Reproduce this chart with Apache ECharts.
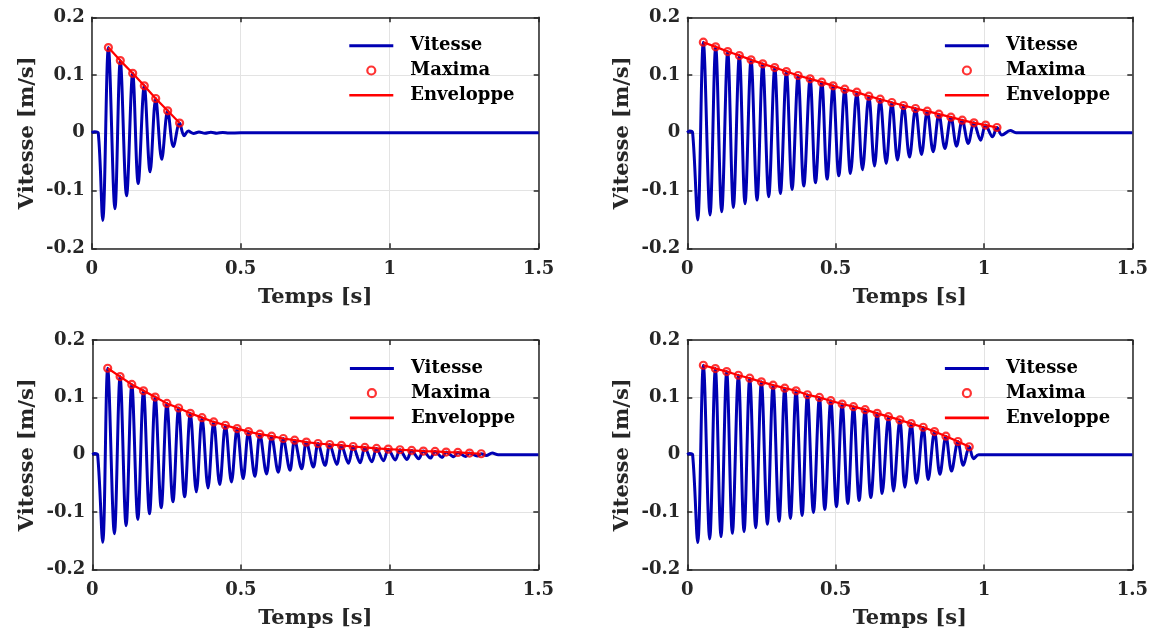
<!DOCTYPE html>
<html><head><meta charset="utf-8">
<script src="https://cdn.jsdelivr.net/npm/echarts@6/dist/echarts.min.js"></script>
<style>html,body{margin:0;padding:0;background:#fff}#c{width:1155px;height:637px}</style>
</head><body><div id="c"></div>
<script>
// ---- tick labels / texts ----
const xTickValues = [0, 0.5, 1, 1.5];
const xTickLabels = ['0', '0.5', '1', '1.5'];
const yTickValues = [-0.2, -0.1, 0, 0.1, 0.2];
const yTickLabels = ['-0.2', '-0.1', '0', '0.1', '0.2'];
const legendNames = ['Vitesse', 'Maxima', 'Enveloppe'];
const xTitle = 'Temps [s]';
const yTitle = 'Vitesse [m/s]';

// ---- panel 1 (top-left) ----
const p1StartT = [0, 0.01, 0.022];
const p1StartV = [0, 0.002, 0];
const p1MaxT = [0.056, 0.096, 0.1376, 0.1765, 0.2148, 0.255, 0.295];
const p1MaxV = [0.1476, 0.125, 0.103, 0.0813, 0.0594, 0.038, 0.0168];
const p1MinT = [0.037, 0.078, 0.117, 0.156, 0.196, 0.235, 0.274];
const p1MinV = [-0.1517, -0.1315, -0.109, -0.088, -0.0675, -0.046, -0.0237];
const p1TailT = [0.31, 0.324, 0.342, 0.36, 0.38, 0.40, 0.42, 0.44, 0.46, 0.5, 1.5];
const p1TailV = [-0.005, 0.003, -0.001, 0.0012, -0.0008, 0.001, -0.0007, 0.0006, -0.0004, 0, 0];

// ---- panel 2 (top-right) ----
const p2StartT = [0, 0.008, 0.018];
const p2StartV = [0, 0.003, 0];
const p2MaxT = [0.054, 0.0957, 0.1362, 0.1755, 0.2149, 0.2543, 0.2948, 0.3341, 0.3735, 0.414, 0.4533, 0.4916, 0.5309, 0.5714, 0.6119, 0.6501, 0.6895, 0.7289, 0.7693, 0.8087, 0.8481, 0.8886, 0.9268, 0.9662, 1.0055, 1.0438];
const p2MaxV = [0.1569, 0.1488, 0.1407, 0.1338, 0.1263, 0.1194, 0.113, 0.1061, 0.0992, 0.0934, 0.0877, 0.0813, 0.0755, 0.0704, 0.0634, 0.0582, 0.0525, 0.0473, 0.0421, 0.0375, 0.0323, 0.0271, 0.0219, 0.0173, 0.0133, 0.0092];
const p2MinT = [0.035, 0.0766, 0.1159, 0.1553, 0.1946, 0.2351, 0.2745, 0.3139, 0.3532, 0.3926, 0.432, 0.4713, 0.5107, 0.55, 0.5905, 0.631, 0.6704, 0.7086, 0.749, 0.7895, 0.8289, 0.8683, 0.9076, 0.947, 0.9886, 1.029];
const p2MinV = [-0.151, -0.1424, -0.1367, -0.1292, -0.1228, -0.1165, -0.1107, -0.105, -0.098, -0.0923, -0.0865, -0.0802, -0.0744, -0.0704, -0.064, -0.0577, -0.0531, -0.0473, -0.0421, -0.0375, -0.0329, -0.0271, -0.0231, -0.0185, -0.0127, -0.0069];
const p2TailT = [1.0606, 1.0887, 1.108, 1.5];
const p2TailV = [-0.004, 0.004, 0, 0];

// ---- panel 3 (bottom-left) ----
const p3StartT = [0, 0.008, 0.018];
const p3StartV = [0, 0.002, 0];
const p3MaxT = [0.0518, 0.0935, 0.1328, 0.1722, 0.2115, 0.2509, 0.2903, 0.3296, 0.369, 0.4083, 0.4477, 0.4871, 0.5253, 0.5635, 0.6029, 0.6423, 0.6805, 0.7199, 0.7592, 0.7986, 0.838, 0.8773, 0.9167, 0.956, 0.9954, 1.0347, 1.0741, 1.1135, 1.1528, 1.19, 1.2293, 1.2687, 1.308];
const p3MaxV = [0.1508, 0.1363, 0.1225, 0.1115, 0.1005, 0.0895, 0.0815, 0.0722, 0.0647, 0.0572, 0.0514, 0.0456, 0.0404, 0.0358, 0.0324, 0.0283, 0.0254, 0.022, 0.0196, 0.0179, 0.0162, 0.0144, 0.0127, 0.011, 0.0098, 0.0087, 0.0075, 0.0064, 0.0058, 0.0046, 0.004, 0.0029, 0.0017];
const p3MinT = [0.035, 0.0743, 0.1137, 0.1531, 0.1924, 0.2318, 0.2712, 0.3105, 0.3499, 0.3892, 0.4286, 0.468, 0.5073, 0.5467, 0.586, 0.6254, 0.6648, 0.7041, 0.7435, 0.7828, 0.8222, 0.8616, 0.9009, 0.9403, 0.9796, 1.019, 1.0584, 1.0977, 1.1371, 1.1764, 1.2158, 1.2552, 1.2945];
const p3MinV = [-0.1525, -0.1375, -0.1236, -0.1127, -0.1028, -0.0924, -0.082, -0.0734, -0.0647, -0.0578, -0.052, -0.0474, -0.0416, -0.0376, -0.0335, -0.0306, -0.0272, -0.0243, -0.0214, -0.0185, -0.0168, -0.015, -0.0139, -0.0121, -0.0104, -0.0092, -0.0081, -0.0069, -0.0058, -0.0046, -0.0035, -0.0029, -0.0023];
const p3TailT = [1.325, 1.345, 1.365, 1.5];
const p3TailV = [-0.0015, 0.003, 0, 0];

// ---- panel 4 (bottom-right) ----
const p4StartT = [0, 0.008, 0.018];
const p4StartV = [0, 0.002, 0];
const p4MaxT = [0.0541, 0.0946, 0.1328, 0.1722, 0.2104, 0.2498, 0.2891, 0.3285, 0.3667, 0.405, 0.4454, 0.4837, 0.5219, 0.5602, 0.5995, 0.64, 0.6782, 0.7165, 0.7547, 0.7952, 0.8334, 0.8717, 0.9122, 0.9504];
const p4MaxV = [0.156, 0.1502, 0.145, 0.1386, 0.1334, 0.1271, 0.1213, 0.1161, 0.1115, 0.1046, 0.0999, 0.0942, 0.0884, 0.0838, 0.0786, 0.0722, 0.0664, 0.0607, 0.0543, 0.0479, 0.0404, 0.0324, 0.0231, 0.0139];
const p4MinT = [0.035, 0.0755, 0.1137, 0.1519, 0.1913, 0.2307, 0.27, 0.3094, 0.3476, 0.387, 0.4252, 0.4635, 0.5028, 0.5411, 0.5793, 0.6187, 0.6569, 0.6951, 0.7334, 0.7727, 0.8121, 0.8515, 0.8908, 0.9302];
const p4MinV = [-0.1531, -0.1467, -0.1427, -0.1369, -0.134, -0.1271, -0.1213, -0.1161, -0.1109, -0.1057, -0.1005, -0.0953, -0.0907, -0.0849, -0.0797, -0.0745, -0.0676, -0.063, -0.0566, -0.0497, -0.0433, -0.0341, -0.0283, -0.0185];
const p4TailT = [0.965, 0.982, 1.5];
const p4TailV = [-0.0069, 0, 0];

// ---- build ----
function pairs(t, v) { return t.map((x, i) => [x, v[i]]); }
function merged(...lists) {
  const out = [];
  for (let i = 0; i < lists.length; i += 2) out.push(...pairs(lists[i], lists[i + 1]));
  return out.sort((a, b) => a[0] - b[0]);
}
const panels = [
  { vel: merged(p1StartT, p1StartV, p1MinT, p1MinV, p1MaxT, p1MaxV, p1TailT, p1TailV), max: pairs(p1MaxT, p1MaxV) },
  { vel: merged(p2StartT, p2StartV, p2MinT, p2MinV, p2MaxT, p2MaxV, p2TailT, p2TailV), max: pairs(p2MaxT, p2MaxV) },
  { vel: merged(p3StartT, p3StartV, p3MinT, p3MinV, p3MaxT, p3MaxV, p3TailT, p3TailV), max: pairs(p3MaxT, p3MaxV) },
  { vel: merged(p4StartT, p4StartV, p4MinT, p4MinV, p4MaxT, p4MaxV, p4TailT, p4TailV), max: pairs(p4MaxT, p4MaxV) }
];

const FONT = 'DejaVu Serif';
const AX = '#262626';
const BLUE = '#0000b3';
const RED = '#ff0000';
const grids = [
  { left: 91.7, top: 17.3, width: 447, height: 231 },
  { left: 687.3, top: 17.3, width: 445, height: 231 },
  { left: 92.3, top: 340, width: 446, height: 229.5 },
  { left: 687.3, top: 340, width: 445, height: 229.5 }
];
function fmtX(v) { const i = xTickValues.findIndex(t => Math.abs(t - v) < 1e-9); return i >= 0 ? xTickLabels[i] : ''; }
function fmtY(v) { const i = yTickValues.findIndex(t => Math.abs(t - v) < 1e-9); return i >= 0 ? yTickLabels[i] : ''; }

const xAxes = [], yAxes = [], series = [], legends = [];
const lineStyleAx = { color: AX, width: 1.5 };
grids.forEach((g, i) => {
  const common = { type: 'value', gridIndex: i, min: 0, max: 1.5, interval: 0.5,
    axisLine: { show: true, onZero: false, lineStyle: lineStyleAx },
    axisTick: { show: true, inside: true, length: 5, lineStyle: lineStyleAx } };
  xAxes.push(Object.assign({}, common, { position: 'bottom',
    axisLabel: { formatter: fmtX, fontFamily: FONT, fontWeight: 'bold', fontSize: 18, color: AX, margin: 12 },
    splitLine: { show: true, lineStyle: { color: '#e3e3e3', width: 1 } },
    name: xTitle, nameLocation: 'middle', nameGap: 39,
    nameTextStyle: { fontFamily: FONT, fontWeight: 'bold', fontSize: 21, color: AX } }));
  xAxes.push(Object.assign({}, common, { position: 'top', axisLabel: { show: false }, splitLine: { show: false } }));
  const ycommon = { type: 'value', gridIndex: i, min: -0.2, max: 0.2, interval: 0.1,
    axisLine: { show: true, onZero: false, lineStyle: lineStyleAx },
    axisTick: { show: true, inside: true, length: 5, lineStyle: lineStyleAx } };
  yAxes.push(Object.assign({}, ycommon, { position: 'left',
    axisLabel: { formatter: fmtY, fontFamily: FONT, fontWeight: 'bold', fontSize: 18, color: AX, margin: 7 },
    splitLine: { show: true, lineStyle: { color: '#e3e3e3', width: 1 } },
    name: yTitle, nameLocation: 'middle', nameGap: 54,
    nameTextStyle: { fontFamily: FONT, fontWeight: 'bold', fontSize: 21, color: AX } }));
  yAxes.push(Object.assign({}, ycommon, { position: 'right', axisLabel: { show: false }, splitLine: { show: false } }));

  const p = panels[i];
  series.push({ name: legendNames[0], type: 'line', xAxisIndex: 2 * i, yAxisIndex: 2 * i,
    data: p.vel, symbol: 'none', showSymbol: false, smooth: 0.35, color: BLUE,
    lineStyle: { color: BLUE, width: 3 }, z: 2 });
  series.push({ name: legendNames[1], type: 'scatter', xAxisIndex: 2 * i, yAxisIndex: 2 * i,
    data: p.max, symbol: 'circle', symbolSize: 7,
    itemStyle: { color: 'rgba(0,0,0,0)', borderColor: RED, borderWidth: 2.2 }, z: 3 });
  series.push({ name: legendNames[2], type: 'line', xAxisIndex: 2 * i, yAxisIndex: 2 * i,
    data: p.max, symbol: 'none', showSymbol: false, color: RED,
    lineStyle: { color: RED, width: 2.2 }, z: 4 });

  legends.push({
    orient: 'vertical', left: g.left + 257.6, top: g.top + 19.5, padding: 0,
    itemWidth: 44, itemHeight: 8, itemGap: 6.7, selectedMode: false,
    textStyle: { fontFamily: FONT, fontWeight: 'bold', fontSize: 18, color: '#000', padding: [0, 0, 0, 12] },
    data: [
      { name: legendNames[0], icon: 'path://M0 0H44V3H0Z', itemStyle: { color: BLUE, borderWidth: 0 } },
      { name: legendNames[1], icon: 'circle', itemStyle: { color: 'rgba(0,0,0,0)', borderColor: RED, borderWidth: 2.2 } },
      { name: legendNames[2], icon: 'path://M0 0H44V2.6H0Z', itemStyle: { color: RED, borderWidth: 0 } }
    ]
  });
});

const chart = echarts.init(document.getElementById('c'), null, { renderer: 'canvas' });
chart.setOption({
  animation: false,
  backgroundColor: '#ffffff',
  grid: grids,
  xAxis: xAxes,
  yAxis: yAxes,
  legend: legends,
  series: series
});
</script>
</body></html>
